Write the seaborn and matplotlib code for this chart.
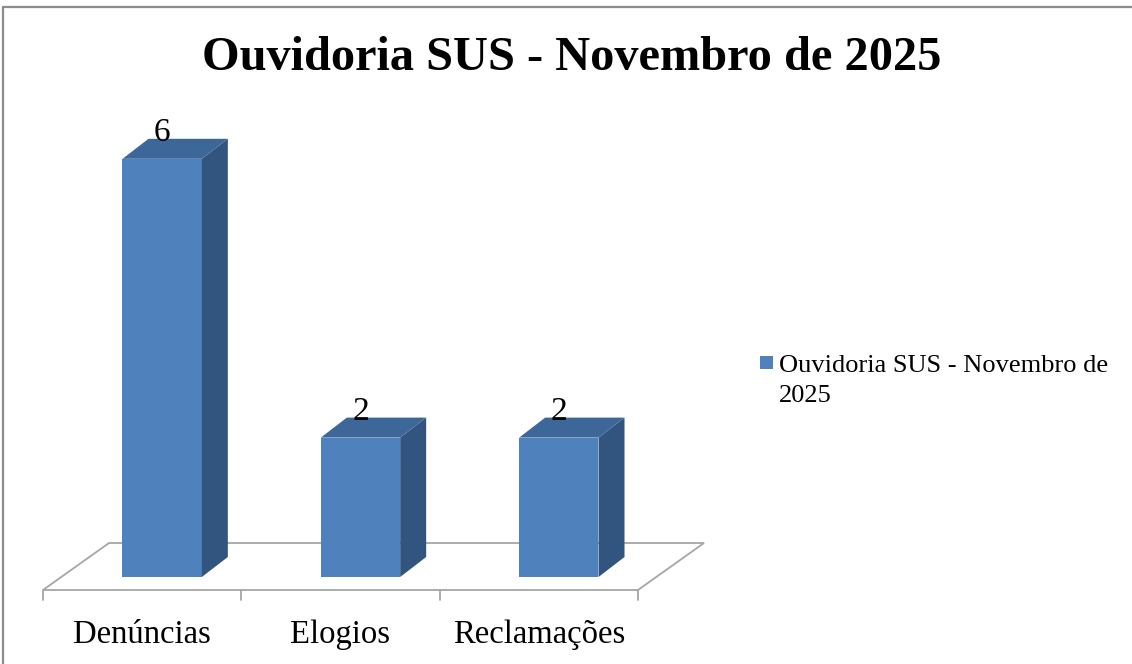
import matplotlib
matplotlib.use("Agg")
import matplotlib.pyplot as plt
import seaborn as sns
import pandas as pd
from matplotlib.patches import Polygon, Rectangle
from matplotlib.lines import Line2D

# ---- data ----
categories = ["Denúncias", "Elogios", "Reclamações"]
values = [6, 2, 2]
series_name = "Ouvidoria SUS - Novembro de 2025"
legend_lines = ["Ouvidoria SUS - Novembro de", "2025"]
title = "Ouvidoria SUS - Novembro de 2025"

# ---- style ----
sns.set_theme(style="white")
plt.rcParams["font.family"] = ["Liberation Serif", "DejaVu Serif"]

FRONT = "#4F81BD"
TOP = "#3D6799"
SIDE = "#32557F"
FLOOR_EDGE = "#A6A6A6"

W, H = 1132, 664
fig = plt.figure(figsize=(W / 100, H / 100), dpi=100)
# axes: x from -0.5..2.5 over 595 px, y=0 at pixel 577, 69.7 px / unit
ymax = 6.8
ax_h = ymax * 69.7
ax = fig.add_axes([63 / W, (H - 577) / H, 595 / W, ax_h / H])

df = pd.DataFrame({"categoria": categories, "valor": values})
sns.barplot(data=df, x="categoria", y="valor", color=FRONT, saturation=1,
            width=0.4, ax=ax, zorder=3, edgecolor="none")
ax.set_xlim(-0.5, 2.5)
ax.set_ylim(0, ymax)
ax.axis("off")

# depth vectors in data units
ddx, ddy = 26 / 198.3, 20 / 69.7          # bar depth
fdx, fdy = -20 / 198.3, -13 / 69.7        # floor front offset from bar plane
bdx, bdy = 46 / 198.3, 34 / 69.7          # floor back offset from bar plane

x0, x1 = ax.get_xlim()
floor = Polygon([(x0 + fdx, fdy), (x1 + fdx, fdy), (x1 + bdx, bdy), (x0 + bdx, bdy)],
                closed=True, facecolor="white", edgecolor=FLOOR_EDGE, lw=1.3,
                clip_on=False, zorder=1)
ax.add_patch(floor)

# ticks at category boundaries on floor front edge
for b in [x0, 0.5, 1.5, x1]:
    ax.add_line(Line2D([b + fdx, b + fdx], [fdy, -23 / 69.7], color=FLOOR_EDGE,
                       lw=1.3, clip_on=False, zorder=1))

# 3D faces for each bar
for i, p in enumerate(ax.patches[:len(values)]):
    if not isinstance(p, Rectangle):
        continue
    bx, bw, bh = p.get_x(), p.get_width(), p.get_height()
    top = Polygon([(bx, bh), (bx + bw, bh), (bx + bw + ddx, bh + ddy), (bx + ddx, bh + ddy)],
                  closed=True, facecolor=TOP, edgecolor="none", clip_on=False, zorder=3)
    side = Polygon([(bx + bw, 0), (bx + bw + ddx, ddy), (bx + bw + ddx, bh + ddy), (bx + bw, bh)],
                   closed=True, facecolor=SIDE, edgecolor="none", clip_on=False, zorder=3)
    ax.add_patch(side)
    ax.add_patch(top)
    ax.text(bx + bw / 2, bh + 0.37, f"{values[i]:g}", ha="center", va="center",
            fontsize=24, color="black", zorder=5, clip_on=False)

# category labels
for i, c in enumerate(categories):
    ax.text(i + fdx, -0.83, c, ha="center", va="center", fontsize=23.5,
            color="black", clip_on=False)

# title
fig.text(572 / W, 1 - 58 / H, title, ha="center", va="center",
         fontsize=34.8, fontweight="bold", color="black")

# legend (manual)
fig.patches.append(Rectangle((760 / W, 1 - 369 / H), 13 / W, 13 / H,
                             transform=fig.transFigure, facecolor=FRONT,
                             edgecolor="none"))
for k, line in enumerate(legend_lines):
    fig.text(779 / W, 1 - (372 + 29.5 * k) / H, line, ha="left", va="baseline",
             fontsize=19, color="black")

# chart border (top and left)
fig.add_artist(Line2D([3 / W, 3 / W], [0, 1 - 7 / H], color="#8C8C8C", lw=1.6,
                      transform=fig.transFigure))
fig.add_artist(Line2D([3 / W, 1], [1 - 7 / H, 1 - 7 / H], color="#8C8C8C", lw=1.6,
                      transform=fig.transFigure))

fig.savefig("out.png", dpi=100, facecolor="white")
